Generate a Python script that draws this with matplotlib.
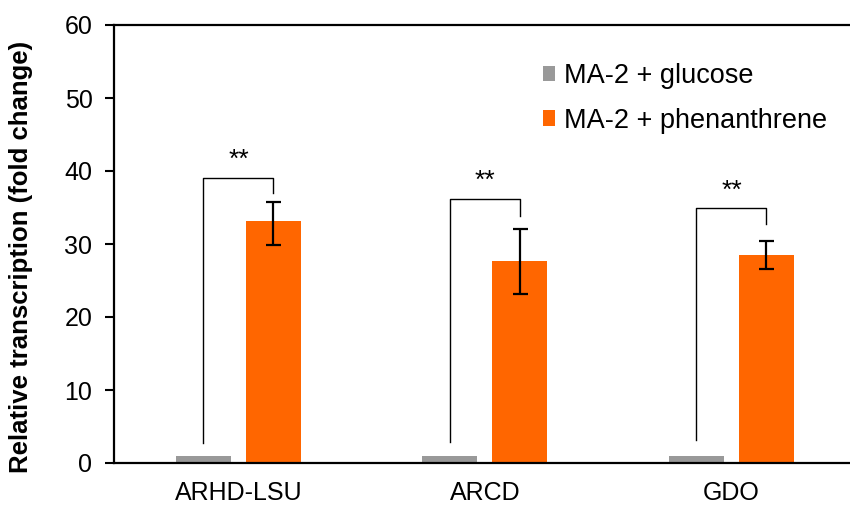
import matplotlib.pyplot as plt
import numpy as np

plt.rcParams['font.family'] = ['Liberation Sans', 'DejaVu Sans']

genes = ['ARHD-LSU', 'ARCD', 'GDO']
glucose = [1.0, 1.0, 1.0]
phen = [33.1, 27.7, 28.5]
phen_lo = [29.9, 23.2, 26.6]
phen_hi = [35.8, 32.0, 30.4]

# significance brackets: left leg bottom, bar top, right leg bottom
br_left = [2.8, 2.9, 3.2]
br_top = [39.1, 36.2, 34.9]
br_right = [37.0, 33.8, 32.8]
stars = ['**', '**', '**']

x = np.arange(len(genes))
w = 0.223
off = 0.142
err = [np.array(phen) - np.array(phen_lo), np.array(phen_hi) - np.array(phen)]

fig = plt.figure(figsize=(8.5, 5.07), dpi=100)
ax = fig.add_axes([114/850, 1 - 463/507, 1 - 114/850, (463 - 25)/507])

ax.bar(x - off, glucose, w, color='#999999', label='MA-2 + glucose')
ax.bar(x + off, phen, w, color='#FF6600', label='MA-2 + phenanthrene')
ax.errorbar(x + off, phen, yerr=err, fmt='none', ecolor='black',
            elinewidth=1.6, capsize=5.4, capthick=1.6)

for i in range(len(genes)):
    xl, xr = x[i] - off, x[i] + off
    ax.plot([xl, xl, xr, xr], [br_left[i], br_top[i], br_top[i], br_right[i]],
            color='black', lw=1.0)
    ax.text(x[i], br_top[i] + 0.8, stars[i], ha='center', va='bottom', fontsize=19)

ax.set_xlim(-0.505, 2.481)
ax.set_ylim(0, 60)
ax.set_yticks(range(0, 61, 10))
ax.set_xticks(x)
ax.set_xticklabels(genes, fontsize=18)
ax.tick_params(axis='x', length=0, pad=13)
ax.tick_params(axis='y', direction='out', length=6.5, width=1.5, labelsize=18, pad=9)
ax.set_ylabel('Relative transcription (fold change)', fontsize=18.5, fontweight='bold')
ax.yaxis.set_label_coords(-0.11, 0.47)

for s in ['left', 'bottom', 'top']:
    ax.spines[s].set_linewidth(1.6)
ax.spines['right'].set_visible(False)

ax.legend(loc='upper left', bbox_to_anchor=(532/850, 1 - 52/507),
          bbox_transform=fig.transFigure, frameon=False, fontsize=19.5,
          handlelength=0.45, handleheight=0.5, handletextpad=0.35,
          labelspacing=0.7, borderaxespad=0)

fig.savefig('out.png', dpi=100)
